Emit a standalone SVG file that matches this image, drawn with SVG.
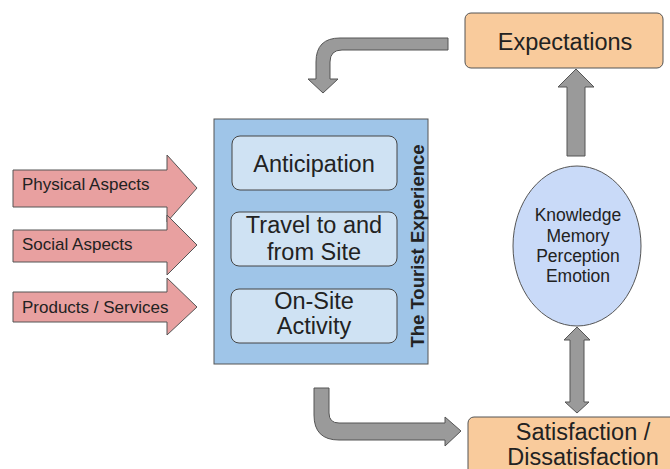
<svg xmlns="http://www.w3.org/2000/svg" width="670" height="469" viewBox="0 0 670 469">
<style>
.t{font-family:"Liberation Sans",Arial,sans-serif;fill:#222;}
.big{font-size:23.5px;text-anchor:middle;}
.lbl{font-size:17px;}
.ell{font-size:17.5px;text-anchor:middle;}
.gray{fill:#9a9a9a;stroke:#555;stroke-width:1;}
.pink{fill:#e8a0a0;stroke:#555;stroke-width:1;}
.orange{fill:#f9cb9c;stroke:#555;stroke-width:1;}
.inner{fill:#cfe2f3;stroke:#444;stroke-width:1;}
</style>
<rect width="670" height="469" fill="#fff"/>
<g id="connectors">
<path class="gray" d="M448,38 L340,38 Q316,38 316,62 L316,79 L308,79 L323,93 L338,79 L330,79 L330,62 Q330,50 342,50 L448,50 Z"/>
<path class="gray" d="M567,156 L567,87 L558,87 L576,69 L594,87 L585,87 L585,156 Z"/>
<path class="gray" d="M570,340 L564,340 L577,327 L590,340 L584,340 L584,402 L589,402 L577,413 L565,402 L570,402 Z"/>
<path class="gray" d="M314,388 L329,388 L329,413 Q329,423 339,423 L445,423 L445,417 L461,431 L445,446 L445,440 L339,440 Q314,440 314,415 Z"/>
</g>
<g id="physical">
<path class="pink" d="M13,170 L167,170 L167,155 L197,188 L167,222 L167,207 L13,207 Z"/>
<text class="t lbl" x="22" y="190">Physical Aspects</text>
</g>
<g id="social">
<path class="pink" d="M13,230 L167,230 L167,215 L197,245 L167,275 L167,262 L13,262 Z"/>
<text class="t lbl" x="22" y="250">Social Aspects</text>
</g>
<g id="products">
<path class="pink" d="M13,292 L167,292 L167,278 L197,307 L167,335 L167,322 L13,322 Z"/>
<text class="t lbl" x="22" y="313">Products / Services</text>
</g>
<g id="tourist-experience">
<rect x="214" y="119" width="214" height="245" fill="#9fc5e8" stroke="#555" stroke-width="1"/>
<text class="t" transform="translate(424,246) rotate(-90)" text-anchor="middle" font-size="18.5" font-weight="bold">The Tourist Experience</text>
</g>
<g id="anticipation">
<rect class="inner" x="232" y="136" width="165" height="54" rx="8"/>
<text class="t big" x="314" y="172">Anticipation</text>
</g>
<g id="travel">
<rect class="inner" x="231" y="212" width="166" height="54" rx="8"/>
<text class="t big" x="314" y="233">Travel to and</text>
<text class="t big" x="314" y="260">from Site</text>
</g>
<g id="onsite">
<rect class="inner" x="231" y="289" width="166" height="54" rx="8"/>
<text class="t big" x="314" y="309">On-Site</text>
<text class="t big" x="314" y="334">Activity</text>
</g>
<g id="expectations">
<rect class="orange" x="465" y="13" width="198" height="55" rx="6"/>
<text class="t big" x="565" y="50">Expectations</text>
</g>
<g id="knowledge">
<ellipse cx="577" cy="246" rx="64" ry="80" fill="#c9daf8" stroke="#555" stroke-width="1"/>
<text class="t ell" x="578" y="221">Knowledge</text>
<text class="t ell" x="578" y="242">Memory</text>
<text class="t ell" x="578" y="262">Perception</text>
<text class="t ell" x="578" y="282">Emotion</text>
</g>
<g id="satisfaction">
<rect class="orange" x="468" y="417" width="230" height="60" rx="6"/>
<text class="t big" x="583" y="440">Satisfaction /</text>
<text class="t big" x="583" y="465">Dissatisfaction</text>
</g>
</svg>
